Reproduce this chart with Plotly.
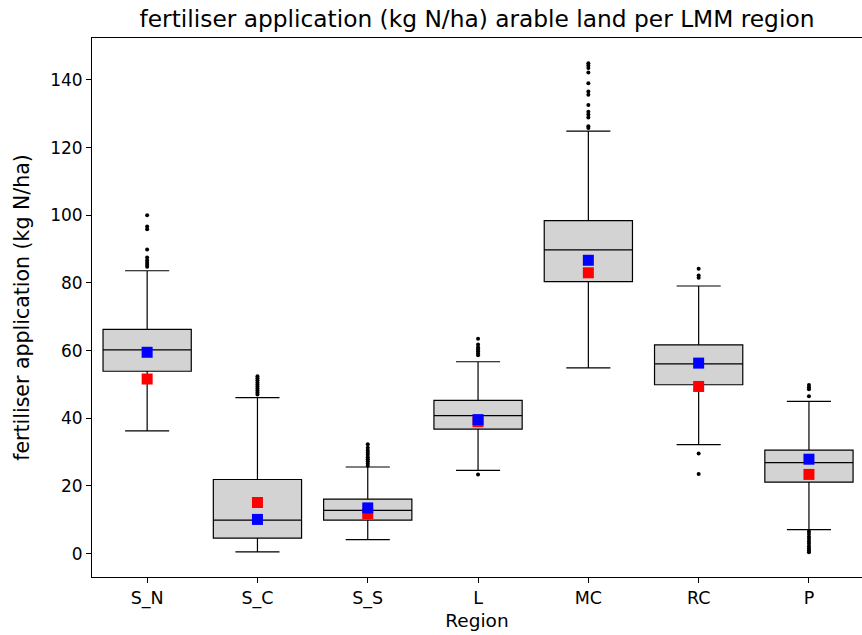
import plotly.graph_objects as go

regions = ["S_N", "S_C", "S_S", "L", "MC", "RC", "P"]

q1 = [53.9, 4.6, 9.9, 36.8, 80.4, 49.9, 21.1]
median = [60.2, 9.9, 12.8, 40.8, 89.8, 56.1, 26.9]
q3 = [66.3, 21.9, 16.1, 45.3, 98.4, 61.7, 30.6]
lower_whisker = [36.3, 0.5, 4.1, 24.6, 54.9, 32.2, 7.1]
upper_whisker = [83.6, 46.1, 25.6, 56.7, 124.9, 79.1, 45.0]

mean_blue = [59.5, 10.1, 13.5, 39.6, 86.7, 56.3, 27.9]
mean_red = [51.6, 15.1, 11.8, 39.0, 83.0, 49.4, 23.4]

outliers = {
    "S_N": [100.0, 96.7, 95.9, 89.9, 87.5, 86.6, 86.0, 85.4, 84.8],
    "S_C": [47.0, 47.6, 48.2, 48.8, 49.4, 50.0, 50.6, 51.2, 51.8, 52.4],
    "S_S": [26.0, 26.6, 27.3, 27.9, 28.5, 29.2, 29.8, 30.5, 31.3, 32.3],
    "L": [63.5, 61.8, 61.0, 60.4, 59.8, 59.2, 58.6, 23.4],
    "MC": [144.9, 144.3, 143.5, 142.2, 139.0, 136.6, 135.6, 132.6, 130.6,
           129.8, 128.9, 126.3, 125.8],
    "RC": [84.2, 82.2, 81.5, 29.6, 23.5],
    "P": [49.8, 49.2, 48.6, 46.5, 6.5, 5.8, 5.0, 4.3, 3.6, 2.9, 2.2, 1.5,
          0.9, 0.4],
}

positions = list(range(1, len(regions) + 1))

fig = go.Figure()

fig.add_trace(go.Box(
    x=positions, q1=q1, median=median, q3=q3,
    lowerfence=lower_whisker, upperfence=upper_whisker,
    width=0.8, whiskerwidth=0.5,
    fillcolor="lightgray", line=dict(color="black", width=1.2),
    boxpoints=False, showlegend=False, hoverinfo="skip",
))

ox, oy = [], []
for i, r in enumerate(regions):
    for v in outliers[r]:
        ox.append(positions[i])
        oy.append(v)
fig.add_trace(go.Scatter(
    x=ox, y=oy, mode="markers",
    marker=dict(color="black", size=4, symbol="circle"),
    showlegend=False, hoverinfo="skip",
))

fig.add_trace(go.Scatter(
    x=positions, y=mean_red, mode="markers",
    marker=dict(color="red", size=11, symbol="square", line=dict(width=0)),
    showlegend=False, hoverinfo="skip",
))
fig.add_trace(go.Scatter(
    x=positions, y=mean_blue, mode="markers",
    marker=dict(color="blue", size=11, symbol="square", line=dict(width=0)),
    showlegend=False, hoverinfo="skip",
))

W, H = 862, 635
left = 92
px_per_unit = 110.3
fig.update_layout(
    width=W, height=H,
    margin=dict(l=left, r=0, t=38, b=58, pad=0),
    paper_bgcolor="white", plot_bgcolor="white",
    font=dict(family="DejaVu Sans", size=17, color="black"),
    title=dict(text="fertiliser application (kg N/ha) arable land per LMM region",
               x=0.5, xref="paper", y=1 - 19 / H, yref="container",
               yanchor="middle", xanchor="center",
               font=dict(size=23.3, family="DejaVu Sans", color="black")),
)
fig.update_xaxes(
    range=[0.5, 0.5 + (W - left) / px_per_unit],
    tickmode="array", tickvals=positions, ticktext=regions,
    tickfont=dict(size=17.5),
    showline=True, linecolor="black", linewidth=1, mirror=True,
    ticks="outside", ticklen=5, tickcolor="black", showgrid=False, zeroline=False,
    title=dict(text="Region", font=dict(size=18.5), standoff=6),
)
fig.update_yaxes(
    range=[-6.92, 152.4],
    tickvals=[0, 20, 40, 60, 80, 100, 120, 140],
    tickfont=dict(size=17),
    showline=True, linecolor="black", linewidth=1,
    ticks="outside", ticklen=5, tickcolor="black", showgrid=False, zeroline=False,
    title=dict(text="fertiliser application (kg N/ha)", font=dict(size=20.5), standoff=14),
)

fig.write_html(
    "out.html",
    config={"displayModeBar": False},
    post_script="document.body.style.margin='0';document.body.style.overflow='hidden';",
)
